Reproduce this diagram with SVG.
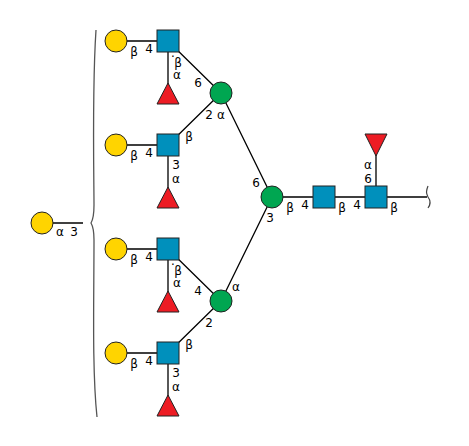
<svg xmlns="http://www.w3.org/2000/svg" width="469" height="446" viewBox="0 0 469 446">
<style>
.l{stroke:#000;stroke-width:1.3;fill:none}
.s{stroke:#222;stroke-width:1}
.gal{fill:#ffd400}.man{fill:#00a651}.glc{fill:#0090bc}.fuc{fill:#ed1c24}
text{font-family:"DejaVu Sans",sans-serif;font-size:12px;fill:#000;text-anchor:middle}
</style>
<rect width="469" height="446" fill="#fff"/>
<g id="connectors">
<path class="l" d="M116 41H168M168 41V94M168 41L221 93"/>
<path class="l" d="M116 145H168M168 145V198M168 145L221 93"/>
<path class="l" d="M116 249H168M168 249V302M168 249L221 301"/>
<path class="l" d="M116 353H168M168 353V406M168 353L221 301"/>
<path class="l" d="M221 93L272 197L221 301M272 197H427M376 197V145"/>
<path class="l" d="M42 223H83"/>
<path d="M96 30C92 90 94 180 94 205Q94 218 91 223Q94 228 94 240C94 300 92 370 97 417" fill="none" stroke="#555" stroke-width="1.3"/>
<path d="M428 186C426 191 426 193 428 197C431 201 431 204 428 208" fill="none" stroke="#444" stroke-width="1.2"/>
</g>
<g id="n1"><circle class="s gal" cx="116" cy="41" r="11"/><text x="134" y="56">β</text><text x="149" y="53">4</text></g>
<g id="n2"><rect class="s glc" x="157" y="30" width="22" height="22"/><text x="178" y="67">β</text><text x="173" y="61">·</text><text x="177" y="79">α</text><text x="198" y="87">6</text></g>
<g id="n3"><path class="s fuc" d="M168 83L179 104H157Z"/></g>
<g id="n4"><circle class="s man" cx="221" cy="93" r="11"/><text x="209" y="119">2</text><text x="221" y="119">α</text></g>
<g id="n5"><circle class="s gal" cx="116" cy="145" r="11"/><text x="134" y="160">β</text><text x="149" y="157">4</text></g>
<g id="n6"><rect class="s glc" x="157" y="134" width="22" height="22"/><text x="189" y="141">β</text><text x="176" y="169">3</text><text x="176" y="183">α</text></g>
<g id="n7"><path class="s fuc" d="M168 187L179 208H157Z"/></g>
<g id="n8"><circle class="s gal" cx="116" cy="249" r="11"/><text x="134" y="264">β</text><text x="149" y="261">4</text></g>
<g id="n9"><rect class="s glc" x="157" y="238" width="22" height="22"/><text x="178" y="275">β</text><text x="173" y="269">·</text><text x="177" y="287">α</text><text x="198" y="295">4</text></g>
<g id="n10"><path class="s fuc" d="M168 291L179 312H157Z"/></g>
<g id="n11"><circle class="s man" cx="221" cy="301" r="11"/><text x="209" y="327">2</text><text x="236" y="291">α</text></g>
<g id="n12"><circle class="s gal" cx="116" cy="353" r="11"/><text x="134" y="368">β</text><text x="149" y="365">4</text></g>
<g id="n13"><rect class="s glc" x="157" y="342" width="22" height="22"/><text x="189" y="349">β</text><text x="176" y="377">3</text><text x="176" y="391">α</text></g>
<g id="n14"><path class="s fuc" d="M168 395L179 416H157Z"/></g>
<g id="n15"><circle class="s man" cx="272" cy="197" r="11"/><text x="256" y="187">6</text><text x="270" y="222">3</text><text x="290" y="212">β</text></g>
<g id="n16"><rect class="s glc" x="313" y="186" width="22" height="22"/><text x="305" y="209">4</text><text x="342" y="212">β</text></g>
<g id="n17"><rect class="s glc" x="365" y="186" width="22" height="22"/><text x="357" y="209">4</text><text x="394" y="212">β</text><text x="368" y="183">6</text><text x="368" y="169">α</text></g>
<g id="n18"><path class="s fuc" d="M365 134H387L376 156Z"/></g>
<g id="n19"><circle class="s gal" cx="42" cy="223" r="11"/><text x="60" y="236">α</text><text x="74" y="236">3</text></g>
</svg>
